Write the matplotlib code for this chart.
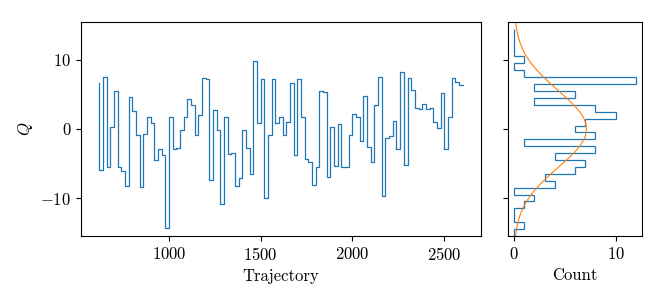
import numpy as np
import matplotlib
matplotlib.use("Agg")
import matplotlib.pyplot as plt
from matplotlib.ticker import MultipleLocator

# topological charge per trajectory
traj = np.arange(620, 2620, 20)
q = [6.68, -6.00, 7.45, -5.45, 0.24, 5.48, -5.45, -6.10, -8.29, 4.59,
     2.63, -0.88, -8.44, -0.78, 1.76, 0.83, -4.54, -2.83, -3.71, -14.39,
     1.80, -2.93, -2.73, -0.15, 1.80, 4.39, 3.48, -0.88, 1.95, 7.37,
     7.17, -7.32, 2.73, -0.15, -10.83, 1.80, -3.66, -3.41, -8.24, -7.07,
     -0.15, -2.73, -6.49, 9.80, 0.88, 7.27, -10.05, -0.93, 7.27, 0.88,
     1.80, -0.83, 0.98, 6.63, -3.76, 7.17, 1.80, -4.39, -4.73, -8.15,
     -5.58, 5.46, 5.37, -6.98, 0.24, -5.41, 0.78, -5.58, -5.55, -0.88,
     2.10, 1.80, -1.76, 4.73, -2.68, -4.78, 3.41, 7.45, -9.66, -1.27,
     -0.98, 1.17, -2.83, 8.24, -5.27, 7.41, 5.61, 3.02, 2.83, 3.61,
     2.83, 3.07, 1.02, 0.10, 5.22, -2.83, 1.71, 7.41, 6.83, 6.39]
q = np.array(q)
bins = np.arange(-15.5, 15.5, 1)
# gaussian fit parameters
fit_mu, fit_sigma = 0.0, 5.6

plt.rcParams["font.family"] = "serif"
plt.rcParams["font.serif"] = ["cmr10"]
plt.rcParams["mathtext.fontset"] = "cm"
plt.rcParams["axes.formatter.use_mathtext"] = True
plt.rcParams["font.size"] = 12

fig = plt.figure(figsize=(6.64, 3.02), dpi=100)
ax = fig.add_axes([0.122, 0.2185, 0.602, 0.709])
ax2 = fig.add_axes([0.765, 0.2185, 0.202, 0.709], sharey=ax)

ax.step(traj, q, where="pre", color="C0", lw=0.9)
ax.set_xlabel("Trajectory")
ax.set_ylabel("$Q$")
ax.set_ylim(-15.5, 15.5)
ax.yaxis.set_major_locator(MultipleLocator(10))

ax2.hist(q, bins=bins, orientation="horizontal", histtype="step", color="C0", lw=0.9)
yy = np.linspace(-16, 16, 300)
gauss = len(q) * np.exp(-0.5 * ((yy - fit_mu) / fit_sigma) ** 2) / (np.sqrt(2 * np.pi) * fit_sigma)
ax2.plot(gauss, yy, color="C1", lw=0.8)
ax2.set_xlim(-0.6, 12.6)
ax2.set_xlabel("Count")
ax2.tick_params(labelleft=False)

fig.savefig("out.png", dpi=100)
